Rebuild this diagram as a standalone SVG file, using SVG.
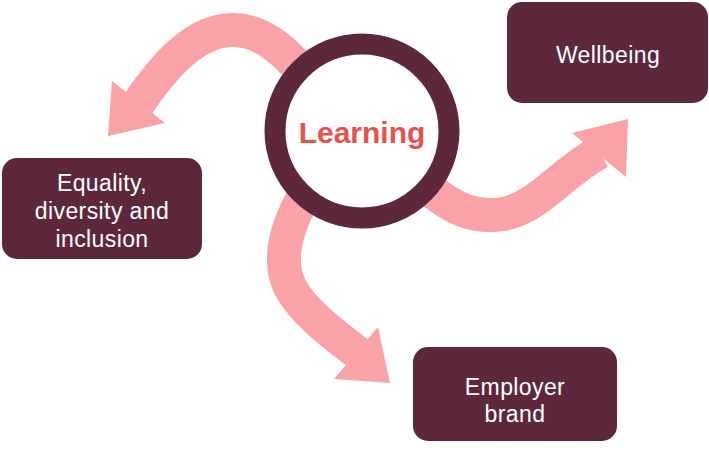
<svg xmlns="http://www.w3.org/2000/svg" width="709" height="451" viewBox="0 0 709 451">
<style>
.box{fill:#5E283C}
.lbl{font-family:"Liberation Sans",Arial,sans-serif;font-size:23px;fill:#FFFFFF;text-anchor:middle;letter-spacing:0.4px}
.shaft{fill:none;stroke:#F9A3A8;stroke-width:34}
.head{fill:#F9A3A8}
</style>
<rect width="709" height="451" fill="#FFFFFF"/>
<g id="connectors">
<path class="shaft" d="M 138,104 C 168,60 198,30 233,30 C 262,30 284,50 308,78"/>
<polygon class="head" points="108,136 112,81 165,123"/>
<path class="shaft" d="M 425,185 C 455,212 478,218 503,214 C 538,208 562,172 600,152"/>
<polygon class="head" points="628,119 572,133 626,177"/>
<path class="shaft" d="M 302,200 C 285,230 278,262 290,287 C 302,310 330,332 358,353"/>
<polygon class="head" points="390,383 378,327 334,379"/>
</g>
<g id="learning">
<circle cx="362" cy="131" r="87" fill="#FFFFFF" stroke="#5E283C" stroke-width="21"/>
<text x="362" y="143" font-family="Liberation Sans,Arial,sans-serif" font-weight="bold" font-size="30" fill="#E8504C" text-anchor="middle">Learning</text>
</g>
<g id="wellbeing">
<rect class="box" x="507" y="2" width="201" height="101" rx="15"/>
<text class="lbl" x="608" y="63">Wellbeing</text>
</g>
<g id="equality">
<rect class="box" x="2" y="158" width="200" height="101" rx="15"/>
<text class="lbl" x="102" y="191">Equality,</text>
<text class="lbl" x="102" y="219">diversity and</text>
<text class="lbl" x="102" y="247">inclusion</text>
</g>
<g id="employer">
<rect class="box" x="413" y="347" width="204" height="94" rx="15"/>
<text class="lbl" x="515" y="395">Employer</text>
<text class="lbl" x="515" y="422">brand</text>
</g>
</svg>
